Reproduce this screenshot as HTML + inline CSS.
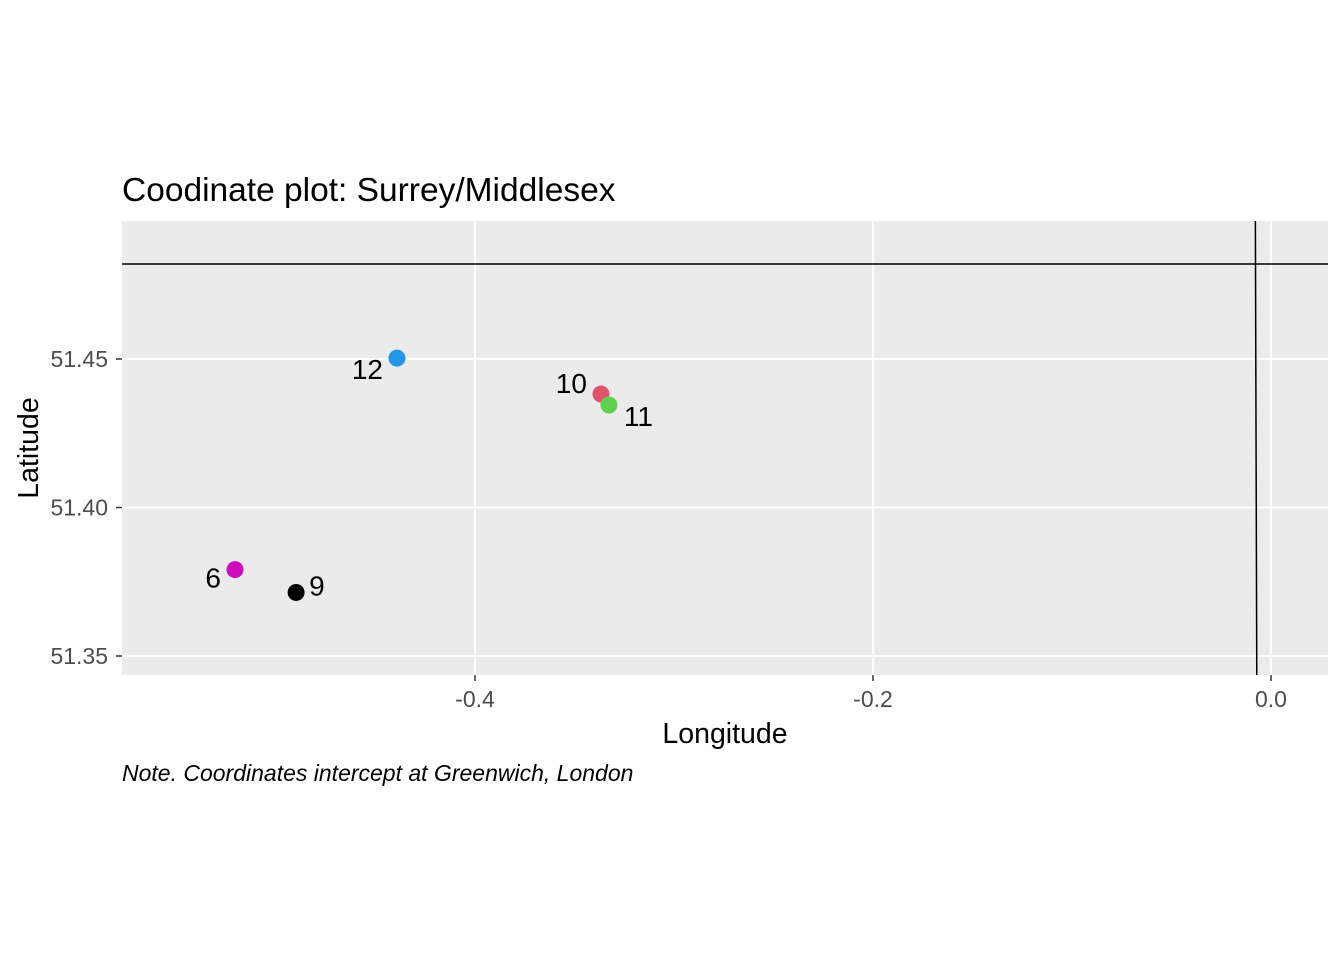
<!DOCTYPE html>
<html><head><meta charset="utf-8"><style>body{margin:0;background:#fff}svg{display:block;font-family:"Liberation Sans",Arial,sans-serif}</style></head>
<body>
<svg width="1344" height="960" viewBox="0 0 1344 960">
<text x="122" y="201" font-size="33.5" fill="#000">Coodinate plot: Surrey/Middlesex</text>
<rect x="122" y="221" width="1206" height="454" fill="#EBEBEB"/>
<g id="grid"></g>
<g id="refs"></g>
<g id="marks"></g>
<g id="axes"></g>
<text x="725" y="743" font-size="28.5" text-anchor="middle">Longitude</text>
<text transform="translate(38,448) rotate(-90)" font-size="28.5" text-anchor="middle">Latitude</text>
<text x="122" y="781" font-size="23" font-style="italic">Note. Coordinates intercept at Greenwich, London</text>
</svg>
<script>
const labels=["12","10","11","6","9"];
const lons=[-0.4392,-0.3367,-0.3327,-0.5206,-0.4899];
const lats=[51.4503,51.4382,51.4345,51.3791,51.3714];
const colors=["#2297E6","#DF536B","#61D04F","#CD0BBC","#000000"];
const xTicks=[-0.4,-0.2,0.0];
const xTickLabels=["-0.4","-0.2","0.0"];
const yTicks=[51.35,51.40,51.45];
const yTickLabels=["51.35","51.40","51.45"];
const refLat=51.482;
const refLon=-0.0075;
const ns="http://www.w3.org/2000/svg";
const X=v=>475+(v+0.4)*1990;
const Y=v=>359-(v-51.45)*2970;
function mk(t,a,p){const e=document.createElementNS(ns,t);for(const k in a)e.setAttribute(k,a[k]);p.appendChild(e);return e;}
const grid=document.getElementById('grid'),axes=document.getElementById('axes'),marks=document.getElementById('marks'),refs=document.getElementById('refs');
xTicks.forEach((v,i)=>{
 const g=mk('line',{x1:X(v),x2:X(v),y1:221,y2:675,stroke:'#fff','stroke-width':2},grid);
 
 
 mk('line',{x1:X(v),x2:X(v),y1:675,y2:681,stroke:'#333','stroke-width':1.5},axes);
 const t=mk('text',{x:X(v),y:707,'font-size':23,fill:'#4D4D4D','text-anchor':'middle'},axes);
 t.textContent=xTickLabels[i];
 
 
});
yTicks.forEach((v,i)=>{
 const g=mk('line',{x1:122,x2:1328,y1:Y(v),y2:Y(v),stroke:'#fff','stroke-width':2},grid);
 
 
 mk('line',{x1:116,x2:122,y1:Y(v),y2:Y(v),stroke:'#333','stroke-width':1.5},axes);
 const t=mk('text',{x:108,y:Y(v)+8,'font-size':23,fill:'#4D4D4D','text-anchor':'end'},axes);
 t.textContent=yTickLabels[i];
 
 
});
const h=mk('line',{x1:122,x2:1328,y1:Y(refLat),y2:Y(refLat),stroke:'#000','stroke-width':1.5},refs);


const vl=mk('line',{x1:X(refLon)-0.7,x2:X(refLon)+0.7,y1:221,y2:675,stroke:'#000','stroke-width':1.5},refs);


const off={"12":[-14,21,'end'],"10":[-14,-1,'end'],"11":[15,21,'start'],"6":[-14,18,'end'],"9":[13,3,'start']};
labels.forEach((l,i)=>{
 const c=mk('circle',{cx:X(lons[i]),cy:Y(lats[i]),r:8.5,fill:colors[i]},marks);
 
 
 const o=off[l];
 const t=mk('text',{x:X(lons[i])+o[0],y:Y(lats[i])+o[1],'font-size':28,fill:'#000','text-anchor':o[2]},marks);
 t.textContent=l;
 
 
});
</script>
</body></html>
